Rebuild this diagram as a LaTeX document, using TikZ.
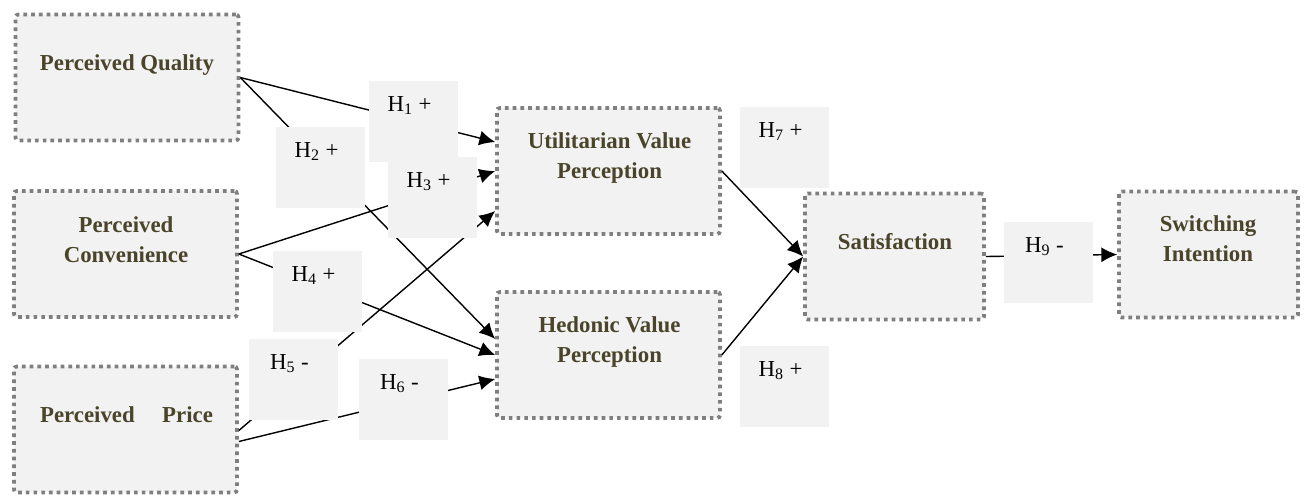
\documentclass[tikz,border=0pt]{standalone}
\usepackage{fontspec}
\setmainfont{Liberation Serif}
\usetikzlibrary{arrows.meta}
\definecolor{boxfill}{HTML}{F2F2F2}
\definecolor{boxline}{HTML}{7F7F7F}
\definecolor{boxtext}{HTML}{4A442A}
\begin{document}
\begin{tikzpicture}[x=0.02cm, y=-0.02cm, >={Latex[length=9pt,width=8.5pt]},
  var/.style={draw=boxline, fill=boxfill, line width=2.1pt, dash pattern=on 2.1pt off 2.3pt,
    rounded corners=1.5pt, minimum width=4.46cm, minimum height=2.52cm, inner sep=0pt},
  vartext/.style={font=\fontsize{13}{17}\selectfont\bfseries, text=boxtext, align=center},
  hyp/.style={fill=boxfill, minimum width=1.78cm, minimum height=1.62cm, inner sep=0pt},
  hyptext/.style={font=\fontsize{13}{17}\selectfont, anchor=base},
  link/.style={->, line width=0.8pt}]
\useasboundingbox (0,0) rectangle (1306,495);
% constructs
\node[var] (pq) at (127,77.5) {};
\node[var] (pc) at (125.5,254) {};
\node[var] (pp) at (125.5,429.5) {};
\node[var] (uvp) at (608.5,171) {};
\node[var] (hvp) at (608.5,355) {};
\node[var, minimum width=3.58cm] (sat) at (894.5,256.5) {};
\node[var, minimum width=3.58cm] (si) at (1208.5,254.5) {};
\node[vartext] (pq-t) at (127,65) {Perceived Quality};
\node[vartext] (pc-t) at (126,240) {Perceived\\Convenience};
\node[vartext] (pp-t) at (126.5,415) {Perceived\hspace{1.2em}Price};
\node[vartext] (uvp-t) at (609.5,158) {Utilitarian Value\\Perception};
\node[vartext] (hvp-t) at (609.5,342) {Hedonic Value\\Perception};
\node[vartext] (sat-t) at (895,242) {Satisfaction};
\node[vartext] (si-t) at (1208,239) {Switching\\Intention};
% paths
\draw[link] (pq.east) -- ([shift={(0,-29)}]uvp.west);
\draw[link] (pq.east) -- ([shift={(0,-16)}]hvp.west);
\draw[link] (pc.east) -- (uvp.west);
\draw[link] (pc.east) -- (hvp.west);
\draw[link] ([shift={(0,1)}]pp.east) -- ([shift={(0,40)}]uvp.west);
\draw[link] ([shift={(0,12)}]pp.east) -- ([shift={(0,24)}]hvp.west);
\draw[link] (uvp.east) -- (sat.west);
\draw[link] (hvp.east) -- (sat.west);
\draw[link] (sat.east) -- (si.west);
% hypotheses
\node[hyp] (h1) at (413.5,121.5) {};
\node[hyp] (h2) at (320.5,167) {};
\node[hyp] (h3) at (432.5,197.5) {};
\node[hyp] (h4) at (317.5,291.5) {};
\node[hyp] (h5) at (293.5,379.5) {};
\node[hyp] (h6) at (403.5,399) {};
\node[hyp] (h7) at (784.5,147) {};
\node[hyp] (h8) at (784.5,386.5) {};
\node[hyp] (h9) at (1048.5,262.5) {};
\node[hyptext] (h1-t) at ([shift={(-4,-10)}]h1) {H\textsubscript{1} +};
\node[hyptext] (h2-t) at ([shift={(-4,-10)}]h2) {H\textsubscript{2} +};
\node[hyptext] (h3-t) at ([shift={(-4,-10)}]h3) {H\textsubscript{3} +};
\node[hyptext] (h4-t) at ([shift={(-4,-10)}]h4) {H\textsubscript{4} +};
\node[hyptext] (h5-t) at ([shift={(-4,-10)}]h5) {H\textsubscript{5} -};
\node[hyptext] (h6-t) at ([shift={(-4,-10)}]h6) {H\textsubscript{6} -};
\node[hyptext] (h7-t) at ([shift={(-4,-10)}]h7) {H\textsubscript{7} +};
\node[hyptext] (h8-t) at ([shift={(-4,-10)}]h8) {H\textsubscript{8} +};
\node[hyptext] (h9-t) at ([shift={(-4,-10)}]h9) {H\textsubscript{9} -};
\end{tikzpicture}
\end{document}
